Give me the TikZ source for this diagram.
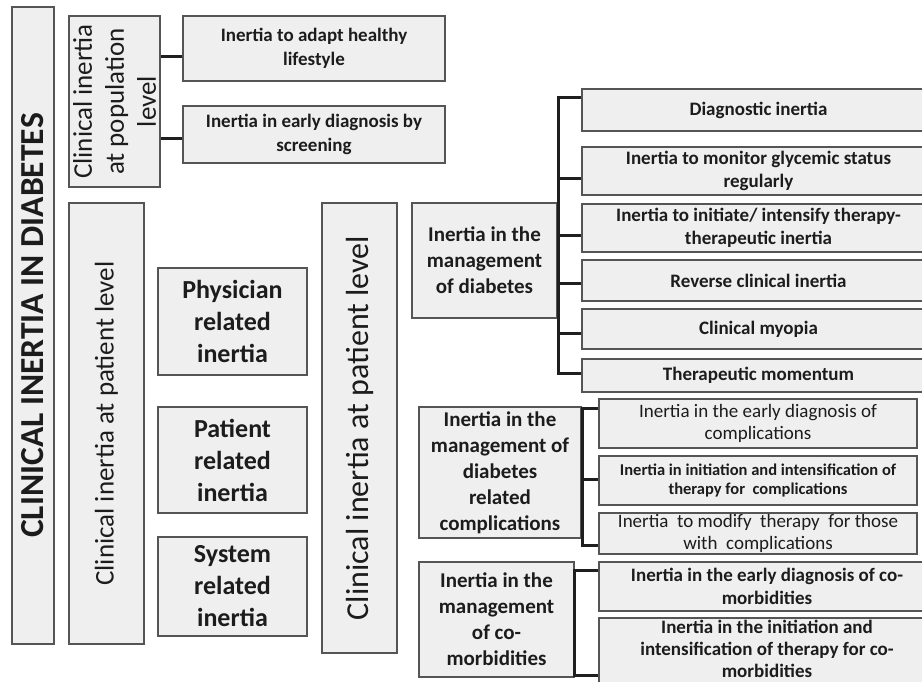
\documentclass[tikz,border=0pt]{standalone}
\usepackage{fontspec}
\setmainfont{Carlito}
\definecolor{boxfill}{HTML}{EFEFEF}
\definecolor{boxline}{HTML}{555555}
\definecolor{ink}{HTML}{1C1C1C}
\newcommand\myfs[2]{\fontsize{#1pt}{#2pt}\selectfont}
\begin{document}
\begin{tikzpicture}[x=1pt,y=-1pt,
  box/.style={draw=boxline,line width=2pt,fill=boxfill,inner sep=0pt,align=center,text=ink},
  sz/.style 2 args={minimum width=#1pt,minimum height=#2pt},
  bracket/.style={draw=black!88,line width=3pt},
  bigb/.style={font=\myfs{26}{32}\bfseries},
  midb/.style={font=\myfs{21}{26}\bfseries},
  smb/.style={font=\myfs{19}{23.5}\bfseries},
  smr/.style={font=\myfs{19}{22}}]
\useasboundingbox (0,0) rectangle (922,681);
\clip (0,0) rectangle (922,681);

% left vertical boxes
\node[box,rotate=90,sz={637}{42},font=\myfs{33.6}{40}\bfseries] (title) at (33,325.5) {CLINICAL INERTIA IN DIABETES};
\node[box,rotate=90,sz={171}{91},font=\myfs{27}{32}] (pop) at (114.5,101.5) {Clinical inertia\\at population\\level};
\node[box,rotate=90,sz={441}{75},font=\myfs{27}{32}] (patl) at (106.5,423.5) {Clinical inertia at patient level};
\node[box,rotate=90,sz={450}{75},font=\myfs{32}{38}] (patr) at (359.5,428) {Clinical inertia at patient level};

% physician / patient / system
\node[box,bigb,sz={149}{107}] (phys) at (232.5,321.5) {Physician\\related\\inertia};
\node[box,bigb,sz={149}{106}] (pat) at (232.5,460) {Patient\\related\\inertia};
\node[box,bigb,sz={149}{99}] (sys) at (232.5,586.5) {System\\related\\inertia};

% population level
\node[box,smb,sz={262}{65}] (hl) at (314,48.5) {Inertia to adapt healthy\\lifestyle};
\node[box,smb,sz={262}{57}] (sc) at (314,134.5) {Inertia in early diagnosis by\\screening};
\draw[bracket] ([yshift=-8pt]hl.west) -- ([yshift=-8pt]hl.west -| pop.south);
\draw[bracket] ([yshift=-3.5pt]sc.west) -- ([yshift=-3.5pt]sc.west -| pop.south);

% management of diabetes
\node[box,midb,sz={145}{115}] (mgmt) at (484.5,260.5) {Inertia in the\\management\\of diabetes};
\node[box,smb,sz={353}{42}] (d1) at (758.5,110) {Diagnostic inertia};
\node[box,smb,sz={353}{48}] (d2) at (758.5,171) {Inertia to monitor glycemic status\\regularly};
\node[box,smb,sz={353}{48}] (d3) at (758.5,228) {Inertia to initiate/ intensify therapy-\\therapeutic inertia};
\node[box,smb,sz={353}{41}] (d4) at (758.5,280.5) {Reverse clinical inertia};
\node[box,smb,sz={353}{40}] (d5) at (758.5,329) {Clinical myopia};
\node[box,smb,sz={353}{33}] (d6) at (758.5,375.5) {Therapeutic momentum};
\draw[bracket] ([yshift=13pt]d1.west) -- ([yshift=13pt]d1.west -| mgmt.east)
  -- ([yshift=2.5pt]d6.west -| mgmt.east) -- ([yshift=2.5pt]d6.west);
\draw[bracket] ([yshift=-7pt]d2.west) -- ([yshift=-7pt]d2.west -| mgmt.east);
\draw[bracket] ([yshift=-7pt]d3.west) -- ([yshift=-7pt]d3.west -| mgmt.east);
\draw[bracket] ([yshift=-2.5pt]d4.west) -- ([yshift=-2.5pt]d4.west -| mgmt.east);
\draw[bracket] ([yshift=-4pt]d5.west) -- ([yshift=-4pt]d5.west -| mgmt.east);

% complications
\node[box,midb,sz={162}{131}] (comp) at (500,472.5) {Inertia in the\\management of\\diabetes\\related\\complications};
\node[box,smr,sz={318}{49}] (c1) at (758,423.5) {Inertia in the early diagnosis of\\complications};
\node[box,sz={318}{49},font=\myfs{16.5}{19}\bfseries] (c2) at (758,480.5) {Inertia in initiation and intensification of\\therapy for\ \ complications};
\node[box,sz={318}{41},font=\myfs{19}{22}] (c3) at (758,533.5) {Inertia\ \ to modify\ \ therapy\ \ for those\\with\ \ complications};
\draw[bracket] ([yshift=15.5pt]c1.west) -- ++(-16,0) |- ([yshift=-11.5pt]c3.west);
\draw[bracket] ([yshift=1.5pt]c2.west) -- ++(-16,0);

% co-morbidities
\node[box,midb,sz={155}{115}] (como) at (496.5,619.5) {Inertia in the\\management\\of co-\\morbidities};
\node[box,smb,sz={336}{49}] (m1) at (767,586.5) {Inertia in the early diagnosis of co-\\morbidities};
\node[box,sz={336}{65},label={[name=m2t,font=\myfs{19}{22}\bfseries,align=center,text=ink,yshift=2pt,inner sep=0pt]center:Inertia in the initiation and\\intensification of therapy for co-\\morbidities}] (m2) at (767,650.5) {};
\draw[bracket] ([yshift=16.5pt]m1.west) -- ++(-24,0) |- ([yshift=-24.5pt]m2.west);
\end{tikzpicture}
\end{document}
